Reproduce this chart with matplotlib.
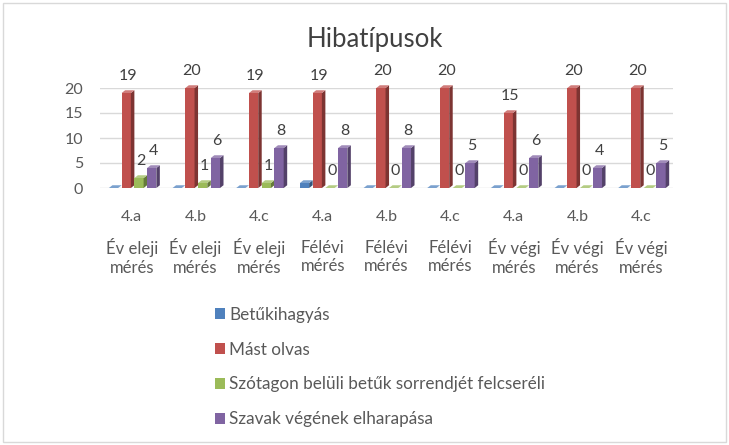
import matplotlib
matplotlib.use("Agg")
import matplotlib.pyplot as plt
from matplotlib.patches import Polygon, Rectangle
import matplotlib.colors as mcolors
import numpy as np

plt.rcParams['font.family'] = ['Lato', 'DejaVu Sans']

title = "Hibatípusok"
classes = ["4.a", "4.b", "4.c", "4.a", "4.b", "4.c", "4.a", "4.b", "4.c"]
periods = ["Év eleji\nmérés", "Év eleji\nmérés", "Év eleji\nmérés",
           "Félévi\nmérés", "Félévi\nmérés", "Félévi\nmérés",
           "Év végi\nmérés", "Év végi\nmérés", "Év végi\nmérés"]
series_names = ["Betűkihagyás", "Mást olvas",
                "Szótagon belüli betűk sorrendjét felcseréli",
                "Szavak végének elharapása"]
betukihagyas = [0, 0, 0, 1, 0, 0, 0, 0, 0]
mast_olvas = [19, 20, 19, 19, 20, 20, 15, 20, 20]
szotagon = [2, 1, 1, 0, 0, 0, 0, 0, 0]
szavak = [4, 6, 8, 8, 8, 5, 6, 4, 5]
yticks = [0, 5, 10, 15, 20]

series = [betukihagyas, mast_olvas, szotagon, szavak]
colors = ["#4F81BD", "#C0504D", "#9BBB59", "#8064A2"]
show_labels = [False, True, True, True]

W, H = 729, 445
fig = plt.figure(figsize=(W / 100, H / 100), dpi=100)
fig.patches.append(Rectangle((3 / W, 3 / H), 1 - 6 / W, 1 - 6 / H, transform=fig.transFigure,
                             fill=False, edgecolor="#D9D9D9", linewidth=1))

ax_l, ax_r, ax_b, ax_t = 100, 673, 188, 88
ax = fig.add_axes([ax_l / W, 1 - ax_b / H, (ax_r - ax_l) / W, (ax_b - ax_t) / H])
ax.set_xlim(-0.5, len(classes) - 0.5)
ax.set_ylim(0, 20)
for s in ax.spines.values():
    s.set_visible(False)
ax.set_yticks(yticks)
ax.tick_params(axis='y', length=0, pad=12, labelsize=11.5, labelcolor="#595959")
ax.tick_params(axis='x', length=0, labelbottom=False)
ax.set_xticks([])
for yv in yticks:
    ax.axhline(yv, color="#D9D9D9", linewidth=1, zorder=0)
ax.set_axisbelow(True)

x = np.arange(len(classes))
bw = 0.2
off0 = 0.04
dx = 0.055  # depth in x-units
dy = 0.55   # depth in y-units


def shade(c, f):
    r, g, b = mcolors.to_rgb(c)
    return (r * f, g * f, b * f)


def lighten(c, f):
    r, g, b = mcolors.to_rgb(c)
    return (r + (1 - r) * f, g + (1 - g) * f, b + (1 - b) * f)


for i, (vals, col) in enumerate(zip(series, colors)):
    pos = x + off0 + (i - 1.5) * bw
    fw = bw - dx
    bars = ax.bar(pos - dx / 2, vals, width=fw, color=col, edgecolor="none", zorder=3 + i * 0.1,
                  clip_on=False)
    for b in bars:
        x0 = b.get_x()
        x1 = x0 + b.get_width()
        h = b.get_height()
        side = Polygon([(x1, 0), (x1 + dx, dy), (x1 + dx, h + dy), (x1, h)],
                       closed=True, facecolor=shade(col, 0.65), edgecolor="none",
                       zorder=3 + i * 0.1, clip_on=False)
        top = Polygon([(x0, h), (x0 + dx, h + dy), (x1 + dx, h + dy), (x1, h)],
                      closed=True, facecolor=lighten(col, 0.25), edgecolor="none",
                      zorder=3 + i * 0.1, clip_on=False)
        ax.add_patch(side)
        ax.add_patch(top)
    if show_labels[i]:
        for p, v in zip(pos, vals):
            ax.annotate(str(v), (p, v), xytext=(0, 12), textcoords="offset points",
                        ha="center", va="center", fontsize=11.5, color="#404040",
                        annotation_clip=False, zorder=3 + i * 0.1 + 0.05)

tr = ax.get_xaxis_transform()
for xi, c, p in zip(x, classes, periods):
    ax.text(xi, -29 / 100, c, transform=tr, ha="center", va="center",
            fontsize=11.5, color="#595959")
    ax.text(xi, -69 / 100, p, transform=tr, ha="center", va="center",
            fontsize=12, color="#595959", linespacing=1.2)

fig.text(375 / W, 1 - 39 / H, title, ha="center", va="center", fontsize=18.5, color="#404040")

handles = [Rectangle((0, 0), 1, 1, facecolor=c, edgecolor="none") for c in colors]
leg = fig.legend(handles, series_names, loc="upper left",
                 bbox_to_anchor=(208 / W, 1 - 300 / H), frameon=False,
                 fontsize=12.3, labelspacing=1.1, handlelength=0.6, handleheight=0.6,
                 handletextpad=0.25, borderaxespad=0)
for t in leg.get_texts():
    t.set_color("#595959")

fig.savefig("out.png", dpi=100)
